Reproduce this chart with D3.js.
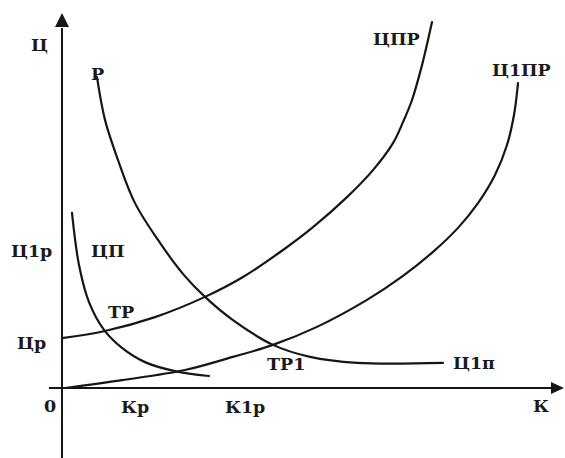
<!DOCTYPE html>
<html><head><meta charset="utf-8">
<script src="https://cdn.jsdelivr.net/npm/d3@7"></script>
<style>
html,body{margin:0;padding:0;background:#fff;}
svg text{font-family:"DejaVu Serif","Liberation Serif",serif;font-weight:bold;fill:#1a1a1a;}
</style></head>
<body>
<svg id="chart" width="565" height="458"></svg>
<script>
// Curve data in abstract units (K on x, Ц on y)
const curveP    = [[7,82.9],[8.6,71.5],[11.2,60.8],[14.6,49.3],[19.6,38.7],[24.4,30.1],[28.6,24.3],[34.2,18.1],[42.2,11.5],[49.6,8.3],[59,6.7],[76.2,6.7]];
const curveCPR  = [[0,13.3],[8.6,15.2],[18.6,18.9],[28.6,24.3],[36.2,29.6],[44.2,36.8],[50.2,42.9],[57,50.9],[62.2,58.1],[66.2,65.3],[68.2,70.9],[70,76.8],[72,86.1],[74,97.6]];
const curveC1PR = [[0.6,0],[12,2.1],[24.6,4.8],[34.2,8.3],[42.2,11.5],[51,16.3],[61,23.5],[68.2,29.9],[74.2,36.3],[79.2,42.7],[83.2,49.3],[86.6,56.8],[89,64.8],[90.4,72.8],[91.2,81.3]];
const curveCP   = [[2,46.7],[3.4,32.8],[5.4,22.9],[8.4,15.5],[12,10.7],[16.6,6.9],[22.6,4.5],[29.4,3.2]];
const labelTexts = ["Ц","Р","Ц1р","ЦП","ТР","Цр","0","Кр","К1р","ТР1","Ц1п","К","ЦПР","Ц1ПР"];
const labelX     = [-6.2,5.8,-10.2,5.8,9.2,-9,-3.6,11.8,32.6,41,78.2,94.2,62.2,86];
const labelY     = [90,82.1,34.9,34.9,18.7,10.4,-6.4,-6.7,-6.7,4.8,5.1,-6.4,91.5,83.2];

const svg = d3.select("#chart");
const x = d3.scaleLinear().domain([0,100]).range([62,562]);
const y = d3.scaleLinear().domain([0,100]).range([388,13]);
const ink = "#161616";

// axes
const xAxis = d3.axisBottom(x).ticks(0).tickSize(0);
const yAxis = d3.axisLeft(y).ticks(0).tickSize(0);
svg.append("g").attr("transform",`translate(0,${y(0)})`).call(xAxis)
  .call(g=>g.select(".domain").attr("d",`M${x(-2.6)},0H${x(98)}`).attr("stroke",ink).attr("stroke-width",2));
svg.append("g").attr("transform",`translate(${x(0)},0)`).call(yAxis)
  .call(g=>g.select(".domain").attr("d",`M0,${y(-19)}V${y(96)}`).attr("stroke",ink).attr("stroke-width",2));

// arrowheads
const ax = x(100.4), ay = y(0);
svg.append("path").attr("d",`M${ax},${ay} L${ax-13},${ay-6} L${ax-13},${ay+6} Z`).attr("fill",ink);
const tx = x(0), ty = y(100);
svg.append("path").attr("d",`M${tx},${ty} L${tx-7},${ty+14} L${tx+7},${ty+14} Z`).attr("fill",ink);

// curves
const line = d3.line().x(d=>x(d[0])).y(d=>y(d[1])).curve(d3.curveCatmullRom.alpha(0.5));
[curveP,curveCPR,curveC1PR,curveCP].forEach(c=>{
  svg.append("path").datum(c).attr("d",line).attr("fill","none")
    .attr("stroke",ink).attr("stroke-width",2.2).attr("stroke-linecap","round");
});

// labels
labelTexts.forEach((t,i)=>{
  svg.append("text").attr("x",x(labelX[i])).attr("y",y(labelY[i]))
    .attr("font-size",17.5).text(t);
});
</script>
</body></html>
